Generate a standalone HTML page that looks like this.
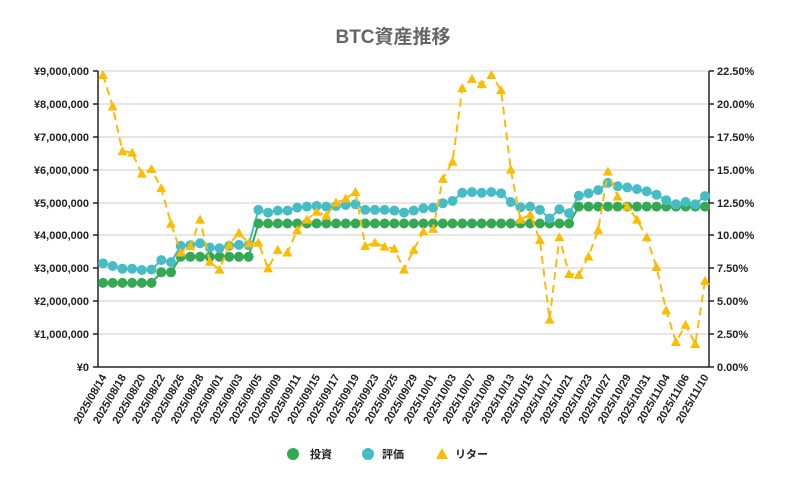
<!DOCTYPE html>
<html><head><meta charset="utf-8"><style>
html,body{margin:0;padding:0;background:#fff;}
svg{display:block;font-family:"Liberation Sans","Noto Sans CJK JP",sans-serif;}
</style></head><body>
<svg id="c" width="786" height="485" viewBox="0 0 786 485" xmlns="http://www.w3.org/2000/svg">
<text x="393" y="43" text-anchor="middle" font-size="19" font-weight="bold" fill="#666">BTC資産推移</text>
<g stroke="#ccc" stroke-width="1">
<line x1="98" x2="709" y1="71" y2="71"/><line x1="98" x2="709" y1="104" y2="104"/><line x1="98" x2="709" y1="137" y2="137"/><line x1="98" x2="709" y1="170" y2="170"/><line x1="98" x2="709" y1="203" y2="203"/><line x1="98" x2="709" y1="235" y2="235"/><line x1="98" x2="709" y1="268" y2="268"/><line x1="98" x2="709" y1="301" y2="301"/><line x1="98" x2="709" y1="334" y2="334"/>
</g>
<g stroke="#222" stroke-width="1.5">
<line x1="98" x2="98" y1="71" y2="367"/><line x1="709" x2="709" y1="71" y2="367"/><line x1="93" x2="714" y1="367" y2="367"/>
<line x1="93" x2="98" y1="71" y2="71"/><line x1="93" x2="98" y1="104" y2="104"/><line x1="93" x2="98" y1="137" y2="137"/><line x1="93" x2="98" y1="170" y2="170"/><line x1="93" x2="98" y1="203" y2="203"/><line x1="93" x2="98" y1="235" y2="235"/><line x1="93" x2="98" y1="268" y2="268"/><line x1="93" x2="98" y1="301" y2="301"/><line x1="93" x2="98" y1="334" y2="334"/>
<line x1="709" x2="714" y1="71" y2="71"/><line x1="709" x2="714" y1="104" y2="104"/><line x1="709" x2="714" y1="137" y2="137"/><line x1="709" x2="714" y1="170" y2="170"/><line x1="709" x2="714" y1="203" y2="203"/><line x1="709" x2="714" y1="235" y2="235"/><line x1="709" x2="714" y1="268" y2="268"/><line x1="709" x2="714" y1="301" y2="301"/><line x1="709" x2="714" y1="334" y2="334"/>
</g>
<g font-size="11" font-weight="bold" fill="#222" text-anchor="end">
<text x="89" y="75">¥9,000,000</text><text x="89" y="108">¥8,000,000</text><text x="89" y="141">¥7,000,000</text><text x="89" y="174">¥6,000,000</text><text x="89" y="207">¥5,000,000</text><text x="89" y="239">¥4,000,000</text><text x="89" y="272">¥3,000,000</text><text x="89" y="305">¥2,000,000</text><text x="89" y="338">¥1,000,000</text><text x="89" y="371">¥0</text>
</g>
<g font-size="11" font-weight="bold" fill="#222" text-anchor="start">
<text x="717" y="75">22.50%</text><text x="717" y="108">20.00%</text><text x="717" y="141">17.50%</text><text x="717" y="174">15.00%</text><text x="717" y="207">12.50%</text><text x="717" y="239">10.00%</text><text x="717" y="272">7.50%</text><text x="717" y="305">5.00%</text><text x="717" y="338">2.50%</text><text x="717" y="371">0.00%</text>
</g>
<g id="xl" font-size="11" font-weight="bold" fill="#222" text-anchor="end">
<text transform="translate(107,377) rotate(-60)">2025/08/14</text>
<text transform="translate(126.4,377) rotate(-60)">2025/08/18</text>
<text transform="translate(145.8,377) rotate(-60)">2025/08/20</text>
<text transform="translate(165.3,377) rotate(-60)">2025/08/22</text>
<text transform="translate(184.7,377) rotate(-60)">2025/08/26</text>
<text transform="translate(204.1,377) rotate(-60)">2025/08/28</text>
<text transform="translate(223.5,377) rotate(-60)">2025/09/01</text>
<text transform="translate(243,377) rotate(-60)">2025/09/03</text>
<text transform="translate(262.4,377) rotate(-60)">2025/09/05</text>
<text transform="translate(281.8,377) rotate(-60)">2025/09/09</text>
<text transform="translate(301.2,377) rotate(-60)">2025/09/11</text>
<text transform="translate(320.6,377) rotate(-60)">2025/09/15</text>
<text transform="translate(340,377) rotate(-60)">2025/09/17</text>
<text transform="translate(359.5,377) rotate(-60)">2025/09/19</text>
<text transform="translate(378.9,377) rotate(-60)">2025/09/23</text>
<text transform="translate(398.3,377) rotate(-60)">2025/09/25</text>
<text transform="translate(417.7,377) rotate(-60)">2025/09/29</text>
<text transform="translate(437.1,377) rotate(-60)">2025/10/01</text>
<text transform="translate(456.6,377) rotate(-60)">2025/10/03</text>
<text transform="translate(476,377) rotate(-60)">2025/10/07</text>
<text transform="translate(495.4,377) rotate(-60)">2025/10/09</text>
<text transform="translate(514.8,377) rotate(-60)">2025/10/13</text>
<text transform="translate(534.2,377) rotate(-60)">2025/10/15</text>
<text transform="translate(553.7,377) rotate(-60)">2025/10/17</text>
<text transform="translate(573.1,377) rotate(-60)">2025/10/21</text>
<text transform="translate(592.5,377) rotate(-60)">2025/10/23</text>
<text transform="translate(611.9,377) rotate(-60)">2025/10/27</text>
<text transform="translate(631.3,377) rotate(-60)">2025/10/29</text>
<text transform="translate(650.8,377) rotate(-60)">2025/10/31</text>
<text transform="translate(670.2,377) rotate(-60)">2025/11/04</text>
<text transform="translate(689.6,377) rotate(-60)">2025/11/06</text>
<text transform="translate(709,377) rotate(-60)">2025/11/10</text>
</g>
<g id="series"></g>
<circle cx="293" cy="454" r="6" fill="#34a853"/>
<text x="310" y="458" font-size="11" font-weight="bold" fill="#222">投資</text>
<circle cx="368" cy="454" r="6" fill="#46bdc6"/>
<text x="382" y="458" font-size="11" font-weight="bold" fill="#222">評価</text>
<polygon points="442,448 448,459 436,459" fill="#fbbc04"/>
<text x="455" y="458" font-size="11" font-weight="bold" fill="#222">リター</text>
</svg>
<script>
var N=63,x0=103,dx=602/62;
function X(i){return x0+dx*i;}
var g=[];for(var i=0;i<N;i++){var v=i<6?2.55:i<8?2.87:i<16?3.34:i<49?4.35:4.86;g.push(367-v*33);}
var tv=[3.14,3.06,2.98,2.98,2.94,2.95,3.24,3.18,3.67,3.69,3.75,3.62,3.60,3.67,3.70,3.69,4.76,4.68,4.74,4.74,4.83,4.86,4.88,4.86,4.88,4.91,4.93,4.76,4.76,4.76,4.74,4.68,4.74,4.81,4.83,4.96,5.03,5.28,5.30,5.28,5.30,5.26,5.00,4.84,4.86,4.76,4.50,4.78,4.66,5.19,5.26,5.36,5.58,5.48,5.44,5.39,5.32,5.22,5.05,4.93,5.00,4.93,5.18];
var t=tv.map(function(v){return 367-v*33;});
var rv=[22.2,19.8,16.4,16.3,14.7,15.05,13.6,10.9,8.7,9.2,11.2,8.0,7.4,9.3,10.2,9.4,9.45,7.5,8.9,8.7,10.4,11.2,11.8,11.5,12.5,12.8,13.3,9.2,9.45,9.15,9.0,7.4,8.9,10.3,10.5,14.3,15.6,21.2,21.9,21.5,22.2,21.05,15.0,11.2,11.6,9.65,3.6,9.86,7.07,7.0,8.4,10.4,14.85,12.95,12.2,11.2,9.86,7.6,4.3,1.9,3.2,1.75,6.55];
var r=rv.map(function(v){return 367-v*296/22.5;});
var s=document.getElementById('series'),h='';
function pl(a,c,extra){var p=a.map(function(y,i){return X(i).toFixed(1)+','+y.toFixed(1);}).join(' ');return '<polyline points="'+p+'" fill="none" stroke="'+c+'" stroke-width="2" '+(extra||'')+'/>';}
h+=pl(g,'#34a853');h+=pl(t,'#46bdc6');
for(var i=0;i<N;i++)h+='<circle cx="'+X(i).toFixed(1)+'" cy="'+g[i].toFixed(1)+'" r="5" fill="#34a853"/>';
for(var i=0;i<N;i++)h+='<circle cx="'+X(i).toFixed(1)+'" cy="'+t[i].toFixed(1)+'" r="5" fill="#46bdc6"/>';
h+=pl(r,'#fbbc04','stroke-dasharray="8,5"');
for(var i=0;i<N;i++){var x=X(i),y=r[i];h+='<polygon points="'+x+','+(y-5)+' '+(x+5)+','+(y+4)+' '+(x-5)+','+(y+4)+'" fill="#fbbc04"/>';}
s.innerHTML=h;
</script>
</body></html>
